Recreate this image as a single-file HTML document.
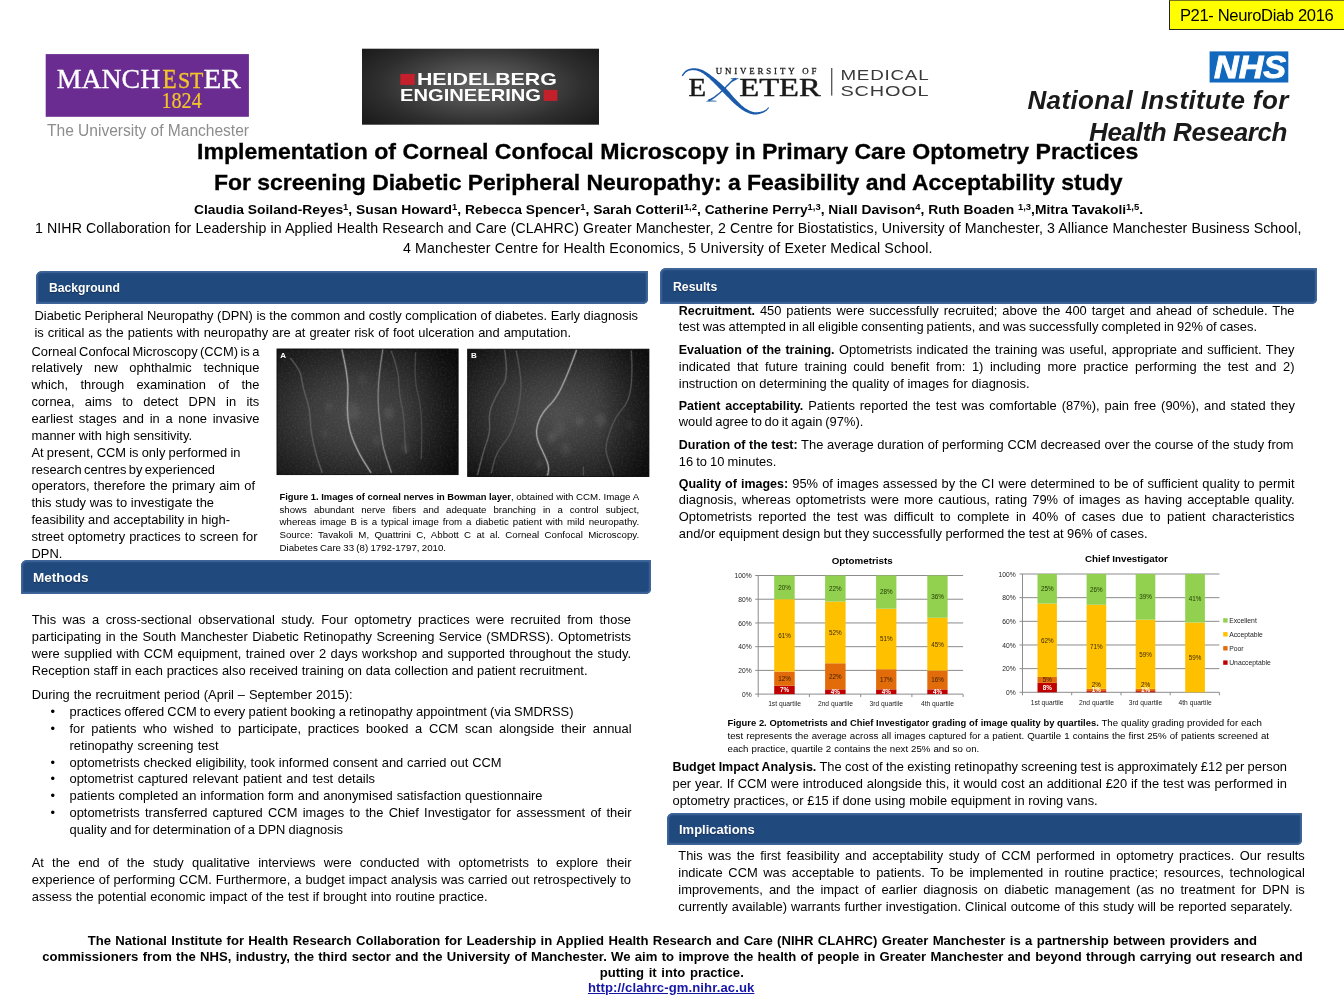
<!DOCTYPE html>
<html lang="en"><head><meta charset="utf-8"><title>CCM poster</title>
<style>
*{margin:0;padding:0;box-sizing:border-box}
html,body{width:1344px;height:1008px;background:#fff;overflow:hidden}
body{position:relative;font-family:"Liberation Sans",sans-serif;color:#000}
.t{position:absolute;white-space:pre;line-height:1;color:#000}
.t sup{font-size:68%;line-height:0;vertical-align:baseline;position:relative;top:-0.5em}
.t.ti{-webkit-text-stroke:.3px #000}
.t b{font-size:96.8%}
.t.h{text-shadow:0 1px 1px rgba(0,0,0,.35)}
.bar{position:absolute;background:#20497e;border-radius:6px 1px 5px 1px;box-shadow:inset 0 0 1.6px 1.9px #41689c}

.tag{position:absolute;left:1169px;top:0;width:177px;height:30px;background:#ffff00;border:1px solid #222;border-top-color:#77771a}
svg.g{position:absolute;left:0;top:0}
</style></head>
<body>
<div class="bar" style="left:36px;top:271.0px;width:611.8px;height:32.8px"></div>
<div class="bar" style="left:21.1px;top:560.1px;width:629.6px;height:33.8px"></div>
<div class="bar" style="left:660px;top:268.0px;width:657.0px;height:35.8px"></div>
<div class="bar" style="left:667px;top:813.1px;width:634.8px;height:31.6px"></div>
<div class="tag"></div>
<svg class="g" width="1344" height="1008" viewBox="0 0 1344 1008">
<defs>
<radialGradient id="pa" cx="44%" cy="52%" r="74%"><stop offset="0" stop-color="#484848"/><stop offset=".35" stop-color="#3a3a3a"/><stop offset=".7" stop-color="#222"/><stop offset="1" stop-color="#0e0e0e"/></radialGradient>
<linearGradient id="pr" x1="0" x2="1" y1="0" y2="0"><stop offset="0" stop-color="#000" stop-opacity="0"/><stop offset=".72" stop-color="#000" stop-opacity="0"/><stop offset="1" stop-color="#000" stop-opacity=".45"/></linearGradient>
<radialGradient id="pb" cx="51%" cy="50%" r="72%"><stop offset="0" stop-color="#4d4d4d"/><stop offset=".35" stop-color="#3c3c3c"/><stop offset=".7" stop-color="#242424"/><stop offset="1" stop-color="#0e0e0e"/></radialGradient>
<radialGradient id="hg" cx=".5" cy=".48" r="1" gradientTransform="translate(.5 .48) scale(.62 .75) translate(-.5 -.48)"><stop offset="0" stop-color="#666"/><stop offset=".35" stop-color="#4c4c4c"/><stop offset=".7" stop-color="#2e2e2e"/><stop offset="1" stop-color="#1c1c1c"/></radialGradient>
<filter id="bl" x="-5%" y="-5%" width="110%" height="110%"><feGaussianBlur stdDeviation="0.7"/></filter>
<filter id="ns" x="0" y="0" width="100%" height="100%"><feTurbulence type="fractalNoise" baseFrequency="0.55" numOctaves="2" seed="3"/><feColorMatrix type="matrix" values="0 0 0 0 1  0 0 0 0 1  0 0 0 0 1  0.9 0 0 0 -0.38"/><feGaussianBlur stdDeviation="0.5"/></filter>
<filter id="bl2" x="-20%" y="-20%" width="140%" height="140%"><feGaussianBlur stdDeviation="2.2"/></filter>
</defs>
<rect x="45.7" y="54.1" width="203.2" height="62.7" fill="#6a2c91"/><rect x="362" y="48.7" width="237" height="76" fill="url(#hg)"/><rect x="1209.6" y="51.4" width="78.7" height="31.1" fill="#1168bd"/>
<g font-family="Liberation Serif, serif" fill="#fff" stroke-width="0.35">
<text x="56.8" y="88.4" font-size="27" textLength="103.4" stroke="#fff" lengthAdjust="spacingAndGlyphs">MANCH</text>
<text x="162.6" y="88.4" font-size="27" fill="#f4c52a" stroke="#f4c52a" textLength="14.2" lengthAdjust="spacingAndGlyphs">E</text>
<text x="178" y="88.4" font-size="22.6" fill="#f4c52a" stroke="#f4c52a" textLength="25.4" lengthAdjust="spacingAndGlyphs">ST</text>
<text x="203.6" y="88.4" font-size="27" textLength="37.2" stroke="#fff" lengthAdjust="spacingAndGlyphs">ER</text>
<text x="161.5" y="108" font-size="23" fill="#f4c52a" stroke="#f4c52a" stroke-width="0.2" textLength="40.2" lengthAdjust="spacingAndGlyphs">1824</text>
</g>
<text x="1214" y="78.2" font-family="Liberation Sans, sans-serif" font-weight="700" font-style="italic" font-size="31.3" fill="#fff" stroke="#fff" stroke-width="0.9" textLength="72.0" lengthAdjust="spacingAndGlyphs">NHS</text>
<g font-family="Liberation Sans, sans-serif" font-weight="700" fill="#fff">
<rect x="400.3" y="73.9" width="14.5" height="11" fill="#c4202c"/>
<text x="416.9" y="84.9" font-size="16.2" textLength="140" lengthAdjust="spacingAndGlyphs">HEIDELBERG</text>
<text x="400" y="100.9" font-size="16.2" textLength="141" lengthAdjust="spacingAndGlyphs">ENGINEERING</text>
<rect x="543.6" y="89.9" width="13.8" height="11" fill="#c4202c"/>
</g>
<g>
<path d="M682.7,76.2 L683.1,75.8 L683.4,75.4 L683.8,74.9 L684.1,74.5 L684.4,74.1 L684.8,73.7 L685.1,73.3 L685.4,72.9 L685.8,72.5 L686.1,72.2 L686.5,71.9 L686.9,71.7 L687.4,71.4 L687.8,71.2 L688.3,71.0 L688.9,70.8 L689.4,70.6 L690.0,70.5 L690.5,70.4 L691.1,70.3 L691.7,70.2 L692.3,70.2 L692.9,70.1 L693.5,70.2 L694.1,70.2 L694.7,70.3 L695.4,70.3 L696.0,70.5 L696.7,70.6 L697.3,70.8 L698.0,71.0 L698.7,71.2 L699.3,71.4 L700.0,71.7 L700.7,72.1 L701.4,72.5 L702.1,72.9 L702.9,73.3 L703.6,73.8 L704.3,74.4 L705.1,74.9 L705.9,75.6 L706.7,76.2 L707.5,76.9 L708.3,77.6 L709.1,78.3 L710.0,79.1 L710.8,79.9 L711.7,80.7 L712.6,81.6 L713.6,82.5 L714.5,83.4 L715.5,84.4 L716.5,85.4 L717.5,86.4 L718.4,87.5 L719.4,88.5 L720.4,89.5 L721.4,90.5 L722.3,91.5 L723.3,92.4 L724.2,93.4 L725.2,94.4 L726.1,95.4 L727.1,96.4 L728.0,97.3 L729.0,98.3 L729.9,99.3 L730.9,100.3 L731.8,101.2 L732.7,102.1 L733.6,102.9 L734.5,103.7 L735.4,104.5 L736.2,105.2 L737.1,105.9 L737.9,106.6 L738.7,107.3 L739.6,108.0 L740.4,108.6 L741.2,109.2 L742.0,109.7 L742.9,110.3 L743.7,110.8 L744.5,111.2 L745.3,111.7 L746.2,112.1 L747.0,112.5 L747.8,112.8 L748.6,113.1 L749.4,113.4 L750.2,113.7 L751.0,113.9 L751.8,114.1 L752.5,114.2 L753.3,114.4 L754.0,114.4 L754.8,114.5 L755.5,114.5 L756.2,114.5 L756.9,114.4 L757.6,114.3 L758.3,114.2 L758.9,114.1 L759.5,113.9 L760.1,113.8 L760.7,113.6 L761.2,113.5 L761.7,113.3 L762.3,113.1 L762.8,112.9 L763.2,112.7 L763.7,112.5 L764.1,112.3 L764.6,112.1 L765.0,111.8 L765.3,111.6 L765.7,111.3 L766.0,111.1 L766.4,110.9 L766.7,110.6 L767.0,110.3 L767.3,110.1 L767.5,109.8 L767.7,109.5 L767.9,109.2 L768.1,109.0 L768.3,108.7 L768.5,108.4 L768.7,108.2 L768.9,107.9 L769.1,107.7 L768.5,107.1 L768.3,107.4 L768.0,107.6 L767.8,107.8 L767.6,108.1 L767.3,108.3 L767.1,108.5 L766.9,108.8 L766.7,109.0 L766.4,109.2 L766.2,109.4 L765.9,109.6 L765.6,109.7 L765.3,109.9 L764.9,110.1 L764.6,110.3 L764.2,110.5 L763.8,110.7 L763.4,110.9 L763.0,111.1 L762.6,111.2 L762.2,111.4 L761.7,111.5 L761.3,111.6 L760.8,111.7 L760.3,111.8 L759.7,111.9 L759.1,112.0 L758.6,112.1 L758.0,112.2 L757.4,112.3 L756.8,112.3 L756.2,112.3 L755.5,112.3 L754.9,112.2 L754.3,112.2 L753.7,112.0 L753.1,111.9 L752.4,111.7 L751.7,111.5 L751.0,111.2 L750.3,111.0 L749.6,110.7 L748.9,110.3 L748.2,110.0 L747.5,109.6 L746.7,109.1 L746.0,108.7 L745.3,108.2 L744.6,107.7 L743.9,107.2 L743.2,106.6 L742.5,106.0 L741.7,105.4 L741.0,104.7 L740.3,104.0 L739.5,103.3 L738.7,102.5 L738.0,101.7 L737.2,100.9 L736.4,100.1 L735.6,99.2 L734.7,98.3 L733.9,97.4 L733.0,96.4 L732.2,95.4 L731.3,94.4 L730.4,93.3 L729.5,92.3 L728.6,91.2 L727.6,90.2 L726.6,89.1 L725.7,88.1 L724.7,87.2 L723.7,86.2 L722.6,85.2 L721.6,84.2 L720.5,83.3 L719.4,82.3 L718.3,81.4 L717.3,80.5 L716.2,79.6 L715.2,78.7 L714.1,77.9 L713.2,77.1 L712.2,76.4 L711.3,75.7 L710.4,75.0 L709.5,74.3 L708.6,73.7 L707.7,73.1 L706.8,72.5 L706.0,72.0 L705.1,71.5 L704.3,71.0 L703.4,70.5 L702.6,70.1 L701.8,69.8 L700.9,69.5 L700.1,69.2 L699.3,69.0 L698.6,68.8 L697.8,68.6 L697.1,68.5 L696.3,68.4 L695.6,68.3 L694.9,68.3 L694.2,68.2 L693.5,68.2 L692.8,68.3 L692.1,68.3 L691.5,68.4 L690.8,68.5 L690.2,68.7 L689.5,68.8 L688.9,69.0 L688.3,69.3 L687.7,69.5 L687.2,69.7 L686.6,70.0 L686.1,70.3 L685.6,70.7 L685.1,71.0 L684.7,71.5 L684.3,71.9 L684.0,72.3 L683.6,72.8 L683.3,73.2 L683.0,73.7 L682.6,74.1 L682.3,74.5 L682.0,75.0 L681.7,75.4Z" fill="#1c5bab"/>
<path d="M735.3,77.6 L735.0,77.9 L734.6,78.1 L734.3,78.4 L734.0,78.6 L733.6,78.8 L733.2,79.1 L732.9,79.4 L732.5,79.7 L732.0,80.1 L731.5,80.4 L731.0,80.9 L730.5,81.4 L729.9,82.0 L729.2,82.7 L728.5,83.4 L727.7,84.2 L727.0,85.0 L726.2,85.8 L725.4,86.7 L724.6,87.5 L723.8,88.3 L723.0,89.1 L722.3,89.8 L721.5,90.5 L720.8,91.1 L720.1,91.8 L719.4,92.4 L718.7,93.0 L718.0,93.5 L717.4,94.1 L716.7,94.6 L716.0,95.1 L715.4,95.6 L714.8,96.1 L714.2,96.5 L713.6,96.9 L713.0,97.3 L712.5,97.6 L712.0,97.8 L711.6,98.1 L711.1,98.3 L710.7,98.5 L710.3,98.7 L709.8,98.9 L709.4,99.1 L708.9,99.3 L708.5,99.5 L708.0,99.7 L709.0,101.5 L709.4,101.2 L709.8,101.0 L710.2,100.7 L710.6,100.5 L711.1,100.3 L711.5,100.0 L711.9,99.8 L712.4,99.5 L712.9,99.2 L713.3,98.9 L713.9,98.5 L714.4,98.1 L715.0,97.7 L715.6,97.2 L716.2,96.7 L716.9,96.2 L717.5,95.7 L718.2,95.1 L718.9,94.6 L719.6,94.0 L720.3,93.4 L721.0,92.8 L721.7,92.1 L722.5,91.5 L723.2,90.8 L724.0,90.1 L724.8,89.3 L725.6,88.5 L726.4,87.6 L727.2,86.8 L728.0,86.0 L728.8,85.2 L729.5,84.4 L730.2,83.7 L730.9,83.1 L731.5,82.6 L732.1,82.1 L732.6,81.8 L733.0,81.5 L733.5,81.2 L733.9,81.0 L734.3,80.8 L734.6,80.6 L735.0,80.5 L735.4,80.3 L735.8,80.1 L736.2,79.9 L736.7,79.6Z" fill="#1c5bab"/>
<path d="M730.5,78.2 L738.5,78.2 L738.3,79 L735,79.6 L732,79.4 Z M705.5,101.6 L716.5,101.6 L716.3,100.8 L712,100.4 L708.5,100.2 Z" fill="#1c5bab"/>
<g font-family="Liberation Serif, serif" fill="#1a1a1a" stroke="#1a1a1a" stroke-width="0.45">
<text x="715.7" stroke-width="0.3" y="74" font-size="8.8" textLength="100.6" lengthAdjust="spacing">UNIVERSITY OF</text>
<text x="688.6" y="95.7" font-size="25.2" textLength="17.6" lengthAdjust="spacingAndGlyphs">E</text>
<text x="739.3" y="95.7" font-size="25.2" textLength="81.5" lengthAdjust="spacingAndGlyphs">ETER</text>
</g>
<rect x="831.2" y="68" width="1.1" height="27.6" fill="#333"/>
<g font-family="Liberation Sans, sans-serif" fill="#3a3a3a" font-size="14.6">
<text x="840.4" y="80.2" textLength="89" lengthAdjust="spacingAndGlyphs" letter-spacing="0.6">MEDICAL</text>
<text x="840.4" y="95.8" textLength="89" lengthAdjust="spacingAndGlyphs" letter-spacing="0.6">SCHOOL</text>
</g>
</g>
<g><rect x="277.0" y="349.0" width="181.1" height="125.6" fill="url(#pa)" stroke="#050505" stroke-width="0.9"/>
<rect x="277.0" y="349.0" width="181.1" height="125.6" fill="url(#pr)"/>
<rect x="277.0" y="349.0" width="181.1" height="125.6" filter="url(#ns)" opacity=".16"/>
<g filter="url(#bl2)">
<ellipse cx="389.0" cy="413.0" rx="5.0" ry="6.5" fill="#999" opacity="0.16"/>
<ellipse cx="329.0" cy="407.0" rx="4.0" ry="5.2" fill="#999" opacity="0.12"/>
<ellipse cx="377.0" cy="441.0" rx="4.0" ry="5.2" fill="#999" opacity="0.12"/>
<ellipse cx="405.0" cy="448.0" rx="3.0" ry="3.9" fill="#999" opacity="0.2"/>
<ellipse cx="352.0" cy="411.0" rx="7.0" ry="9.1" fill="#999" opacity="0.12"/>
<ellipse cx="325.0" cy="433.0" rx="3.0" ry="3.9" fill="#999" opacity="0.12"/>
<ellipse cx="363.0" cy="379.0" rx="5.0" ry="6.5" fill="#999" opacity="0.08"/>
</g><g filter="url(#bl)" fill="none" stroke-linecap="round">
<path d="M290.6,358.6 Q300.6,370.0 301.6,378.6 Q302.7,387.1 306.3,397.9 Q309.9,408.6 310.2,419.3 Q310.6,430.0 313.4,442.9 Q316.3,455.7 319.1,463.9 L322.0,472.1" stroke="#666" stroke-width="2.20" opacity=".28"/>
<path d="M290.6,358.6 Q300.6,370.0 301.6,378.6 Q302.7,387.1 306.3,397.9 Q309.9,408.6 310.2,419.3 Q310.6,430.0 313.4,442.9 Q316.3,455.7 319.1,463.9 L322.0,472.1" stroke="#666" stroke-width="1.0" stroke-dasharray="1.6 0.9" opacity=".9"/>
<path d="M342.0,350.0 Q345.6,365.7 347.0,376.4 Q348.4,387.1 347.7,397.9 Q347.0,408.6 348.1,419.3 Q349.1,430.0 353.4,440.7 Q357.7,451.4 364.1,461.8 L370.6,472.1" stroke="#a8a8a8" stroke-width="2.53" opacity=".28"/>
<path d="M342.0,350.0 Q345.6,365.7 347.0,376.4 Q348.4,387.1 347.7,397.9 Q347.0,408.6 348.1,419.3 Q349.1,430.0 353.4,440.7 Q357.7,451.4 364.1,461.8 L370.6,472.1" stroke="#a8a8a8" stroke-width="1.15" stroke-dasharray="1.6 0.9" opacity=".9"/>
<path d="M382.7,350.0 Q379.1,372.9 378.4,387.1 Q377.7,401.4 378.8,412.1 Q379.9,422.9 381.3,435.0 Q382.7,447.1 387.0,459.6 L391.3,472.1" stroke="#8a8a8a" stroke-width="2.31" opacity=".28"/>
<path d="M382.7,350.0 Q379.1,372.9 378.4,387.1 Q377.7,401.4 378.8,412.1 Q379.9,422.9 381.3,435.0 Q382.7,447.1 387.0,459.6 L391.3,472.1" stroke="#8a8a8a" stroke-width="1.05" stroke-dasharray="1.6 0.9" opacity=".9"/>
<path d="M391.3,351.4 Q398.4,370.0 398.8,382.1 Q399.1,394.3 401.6,405.0 Q404.1,415.7 404.5,430.0 Q404.9,444.3 405.6,448.6 L406.3,452.9" stroke="#5e5e5e" stroke-width="1.98" opacity=".28"/>
<path d="M391.3,351.4 Q398.4,370.0 398.8,382.1 Q399.1,394.3 401.6,405.0 Q404.1,415.7 404.5,430.0 Q404.9,444.3 405.6,448.6 L406.3,452.9" stroke="#5e5e5e" stroke-width="0.9" stroke-dasharray="1.6 0.9" opacity=".9"/>
<path d="M415.6,352.9 Q414.1,380.0 417.4,392.1 Q420.6,404.3 421.3,417.1 Q422.0,430.0 421.6,444.3 L421.3,458.6" stroke="#525252" stroke-width="1.98" opacity=".28"/>
<path d="M415.6,352.9 Q414.1,380.0 417.4,392.1 Q420.6,404.3 421.3,417.1 Q422.0,430.0 421.6,444.3 L421.3,458.6" stroke="#525252" stroke-width="0.9" stroke-dasharray="1.6 0.9" opacity=".9"/>
</g>
<text x="280.2" y="357.6" font-family="Liberation Sans, sans-serif" font-weight="700" font-size="8" fill="#fff">A</text></g>
<g><rect x="467.7" y="349.2" width="181.2" height="127.3" fill="url(#pb)" stroke="#050505" stroke-width="0.9"/>
<rect x="467.7" y="349.2" width="181.2" height="127.3" fill="url(#pr)"/>
<rect x="467.7" y="349.2" width="181.2" height="127.3" filter="url(#ns)" opacity=".16"/>
<g filter="url(#bl2)">
<ellipse cx="551.7" cy="437.2" rx="4.0" ry="5.2" fill="#999" opacity="0.2"/>
<ellipse cx="579.7" cy="421.2" rx="4.0" ry="5.2" fill="#999" opacity="0.16"/>
<ellipse cx="600.7" cy="420.2" rx="5.0" ry="6.5" fill="#999" opacity="0.18"/>
<ellipse cx="539.7" cy="464.2" rx="3.0" ry="3.9" fill="#999" opacity="0.14"/>
<ellipse cx="565.7" cy="449.2" rx="5.0" ry="6.5" fill="#999" opacity="0.12"/>
<ellipse cx="629.7" cy="425.2" rx="3.0" ry="3.9" fill="#999" opacity="0.1"/>
<ellipse cx="559.7" cy="429.2" rx="6.0" ry="7.8" fill="#999" opacity="0.1"/>
</g><g filter="url(#bl)" fill="none" stroke-linecap="round">
<path d="M504.8,350.6 Q508.4,377.1 503.4,384.2 Q498.4,391.3 493.4,402.1 Q488.4,412.8 489.5,422.1 Q490.6,431.3 487.0,441.3 Q483.4,451.3 480.6,462.8 L477.7,474.2" stroke="#666" stroke-width="2.20" opacity=".28"/>
<path d="M504.8,350.6 Q508.4,377.1 503.4,384.2 Q498.4,391.3 493.4,402.1 Q488.4,412.8 489.5,422.1 Q490.6,431.3 487.0,441.3 Q483.4,451.3 480.6,462.8 L477.7,474.2" stroke="#666" stroke-width="1.0" stroke-dasharray="1.6 0.9" opacity=".9"/>
<path d="M516.3,351.3 Q520.6,372.8 520.9,382.8 Q521.3,392.8 518.8,405.6 Q516.3,418.5 512.7,427.8 Q509.1,437.1 502.7,444.9 Q496.3,452.8 493.8,462.8 L491.3,472.8" stroke="#5e5e5e" stroke-width="1.98" opacity=".28"/>
<path d="M516.3,351.3 Q520.6,372.8 520.9,382.8 Q521.3,392.8 518.8,405.6 Q516.3,418.5 512.7,427.8 Q509.1,437.1 502.7,444.9 Q496.3,452.8 493.8,462.8 L491.3,472.8" stroke="#5e5e5e" stroke-width="0.9" stroke-dasharray="1.6 0.9" opacity=".9"/>
<path d="M576.3,350.6 Q567.7,374.2 562.0,386.3 Q556.3,398.5 549.8,404.9 Q543.4,411.3 540.2,417.8 Q537.0,424.2 536.6,431.3 Q536.3,438.5 540.6,447.1 Q544.8,455.6 547.0,461.3 Q549.1,467.1 548.4,471.0 L547.7,474.9" stroke="#aaaaaa" stroke-width="2.53" opacity=".28"/>
<path d="M576.3,350.6 Q567.7,374.2 562.0,386.3 Q556.3,398.5 549.8,404.9 Q543.4,411.3 540.2,417.8 Q537.0,424.2 536.6,431.3 Q536.3,438.5 540.6,447.1 Q544.8,455.6 547.0,461.3 Q549.1,467.1 548.4,471.0 L547.7,474.9" stroke="#aaaaaa" stroke-width="1.15" stroke-dasharray="1.6 0.9" opacity=".9"/>
<path d="M631.3,351.3 Q632.7,372.8 630.9,387.1 Q629.1,401.3 622.7,408.5 Q616.3,415.6 612.7,424.2 Q609.1,432.8 607.0,441.3 Q604.8,449.9 607.7,457.8 Q610.6,465.6 612.0,470.3 L613.4,474.9" stroke="#5c5c5c" stroke-width="2.09" opacity=".28"/>
<path d="M631.3,351.3 Q632.7,372.8 630.9,387.1 Q629.1,401.3 622.7,408.5 Q616.3,415.6 612.7,424.2 Q609.1,432.8 607.0,441.3 Q604.8,449.9 607.7,457.8 Q610.6,465.6 612.0,470.3 L613.4,474.9" stroke="#5c5c5c" stroke-width="0.95" stroke-dasharray="1.6 0.9" opacity=".9"/>
<path d="M583.4,467.1 Q583.4,471.3 583.4,473.1 L583.4,474.9" stroke="#5a5a5a" stroke-width="1.98" opacity=".28"/>
<path d="M583.4,467.1 Q583.4,471.3 583.4,473.1 L583.4,474.9" stroke="#5a5a5a" stroke-width="0.9" stroke-dasharray="1.6 0.9" opacity=".9"/>
</g>
<text x="470.9" y="357.8" font-family="Liberation Sans, sans-serif" font-weight="700" font-size="8" fill="#fff">B</text></g>
<g font-family="Liberation Sans, sans-serif">
<rect x="755.2" y="693.60" width="207.9" height="1" fill="#8c8c8c"/>
<text x="751.7" y="696.8" font-size="6.7" text-anchor="end" fill="#222">0%</text>
<rect x="755.2" y="669.88" width="207.9" height="1" fill="#8c8c8c"/>
<text x="751.7" y="673.1" font-size="6.7" text-anchor="end" fill="#222">20%</text>
<rect x="755.2" y="646.16" width="207.9" height="1" fill="#8c8c8c"/>
<text x="751.7" y="649.4" font-size="6.7" text-anchor="end" fill="#222">40%</text>
<rect x="755.2" y="622.44" width="207.9" height="1" fill="#8c8c8c"/>
<text x="751.7" y="625.6" font-size="6.7" text-anchor="end" fill="#222">60%</text>
<rect x="755.2" y="598.72" width="207.9" height="1" fill="#8c8c8c"/>
<text x="751.7" y="601.9" font-size="6.7" text-anchor="end" fill="#222">80%</text>
<rect x="755.2" y="575.00" width="207.9" height="1" fill="#8c8c8c"/>
<text x="751.7" y="578.2" font-size="6.7" text-anchor="end" fill="#222">100%</text>
<rect x="757.7" y="575.5" width="1" height="121.6" fill="#8c8c8c"/>
<rect x="808.9" y="694.1" width="1" height="3" fill="#8c8c8c"/>
<rect x="860.2" y="694.1" width="1" height="3" fill="#8c8c8c"/>
<rect x="911.4" y="694.1" width="1" height="3" fill="#8c8c8c"/>
<rect x="962.6" y="694.1" width="1" height="3" fill="#8c8c8c"/>
<rect x="774.2" y="685.80" width="20.5" height="8.30" fill="#c00000"/>
<rect x="774.2" y="671.57" width="20.5" height="14.23" fill="#e36c0a"/>
<rect x="774.2" y="599.22" width="20.5" height="72.35" fill="#ffc000"/>
<rect x="774.2" y="575.50" width="20.5" height="23.72" fill="#92d050"/>
<text x="784.5" y="692.2" font-size="6.3" text-anchor="middle" fill="#fff" font-weight="700">7%</text>
<text x="784.5" y="681.0" font-size="6.3" text-anchor="middle" fill="#3a2000">12%</text>
<text x="784.5" y="637.7" font-size="6.3" text-anchor="middle" fill="#3a2a00">61%</text>
<text x="784.5" y="589.7" font-size="6.3" text-anchor="middle" fill="#1e3a00">20%</text>
<text x="784.5" y="706.3" font-size="6.7" text-anchor="middle" fill="#222">1st quartile</text>
<rect x="825.1" y="689.36" width="20.5" height="4.74" fill="#c00000"/>
<rect x="825.1" y="663.26" width="20.5" height="26.09" fill="#e36c0a"/>
<rect x="825.1" y="601.59" width="20.5" height="61.67" fill="#ffc000"/>
<rect x="825.1" y="575.50" width="20.5" height="26.09" fill="#92d050"/>
<text x="835.4" y="694.0" font-size="6.3" text-anchor="middle" fill="#fff" font-weight="700">4%</text>
<text x="835.4" y="678.6" font-size="6.3" text-anchor="middle" fill="#3a2000">22%</text>
<text x="835.4" y="634.7" font-size="6.3" text-anchor="middle" fill="#3a2a00">52%</text>
<text x="835.4" y="590.8" font-size="6.3" text-anchor="middle" fill="#1e3a00">22%</text>
<text x="835.4" y="706.3" font-size="6.7" text-anchor="middle" fill="#222">2nd quartile</text>
<rect x="876.1" y="689.36" width="20.3" height="4.74" fill="#c00000"/>
<rect x="876.1" y="669.19" width="20.3" height="20.16" fill="#e36c0a"/>
<rect x="876.1" y="608.71" width="20.3" height="60.49" fill="#ffc000"/>
<rect x="876.1" y="575.50" width="20.3" height="33.21" fill="#92d050"/>
<text x="886.2" y="694.0" font-size="6.3" text-anchor="middle" fill="#fff" font-weight="700">4%</text>
<text x="886.2" y="681.6" font-size="6.3" text-anchor="middle" fill="#3a2000">17%</text>
<text x="886.2" y="641.3" font-size="6.3" text-anchor="middle" fill="#3a2a00">51%</text>
<text x="886.2" y="594.4" font-size="6.3" text-anchor="middle" fill="#1e3a00">28%</text>
<text x="886.2" y="706.3" font-size="6.7" text-anchor="middle" fill="#222">3rd quartile</text>
<rect x="927.3" y="689.40" width="20.3" height="4.70" fill="#c00000"/>
<rect x="927.3" y="670.61" width="20.3" height="18.79" fill="#e36c0a"/>
<rect x="927.3" y="617.77" width="20.3" height="52.84" fill="#ffc000"/>
<rect x="927.3" y="575.50" width="20.3" height="42.27" fill="#92d050"/>
<text x="937.5" y="694.1" font-size="6.3" text-anchor="middle" fill="#fff" font-weight="700">4%</text>
<text x="937.5" y="682.3" font-size="6.3" text-anchor="middle" fill="#3a2000">16%</text>
<text x="937.5" y="646.5" font-size="6.3" text-anchor="middle" fill="#3a2a00">45%</text>
<text x="937.5" y="598.9" font-size="6.3" text-anchor="middle" fill="#1e3a00">36%</text>
<text x="937.5" y="706.3" font-size="6.7" text-anchor="middle" fill="#222">4th quartile</text>
<text x="862.2" y="563.7" font-size="9.8" font-weight="700" text-anchor="middle" fill="#000">Optometrists</text>
</g>
<g font-family="Liberation Sans, sans-serif">
<rect x="1019.5" y="691.80" width="199.9" height="1" fill="#8c8c8c"/>
<text x="1015.6" y="695.0" font-size="6.7" text-anchor="end" fill="#222">0%</text>
<rect x="1019.5" y="668.14" width="199.9" height="1" fill="#8c8c8c"/>
<text x="1015.6" y="671.3" font-size="6.7" text-anchor="end" fill="#222">20%</text>
<rect x="1019.5" y="644.48" width="199.9" height="1" fill="#8c8c8c"/>
<text x="1015.6" y="647.7" font-size="6.7" text-anchor="end" fill="#222">40%</text>
<rect x="1019.5" y="620.82" width="199.9" height="1" fill="#8c8c8c"/>
<text x="1015.6" y="624.0" font-size="6.7" text-anchor="end" fill="#222">60%</text>
<rect x="1019.5" y="597.16" width="199.9" height="1" fill="#8c8c8c"/>
<text x="1015.6" y="600.4" font-size="6.7" text-anchor="end" fill="#222">80%</text>
<rect x="1019.5" y="573.50" width="199.9" height="1" fill="#8c8c8c"/>
<text x="1015.6" y="576.7" font-size="6.7" text-anchor="end" fill="#222">100%</text>
<rect x="1022.0" y="574.0" width="1" height="121.3" fill="#8c8c8c"/>
<rect x="1071.2" y="692.3" width="1" height="3" fill="#8c8c8c"/>
<rect x="1120.5" y="692.3" width="1" height="3" fill="#8c8c8c"/>
<rect x="1169.7" y="692.3" width="1" height="3" fill="#8c8c8c"/>
<rect x="1218.9" y="692.3" width="1" height="3" fill="#8c8c8c"/>
<rect x="1037.5" y="682.84" width="19.4" height="9.46" fill="#c00000"/>
<rect x="1037.5" y="676.92" width="19.4" height="5.91" fill="#e36c0a"/>
<rect x="1037.5" y="603.58" width="19.4" height="73.35" fill="#ffc000"/>
<rect x="1037.5" y="574.00" width="19.4" height="29.57" fill="#92d050"/>
<text x="1047.2" y="689.9" font-size="6.3" text-anchor="middle" fill="#fff" font-weight="700">8%</text>
<text x="1047.2" y="682.2" font-size="6.3" text-anchor="middle" fill="#3a2000">5%</text>
<text x="1047.2" y="642.5" font-size="6.3" text-anchor="middle" fill="#3a2a00">62%</text>
<text x="1047.2" y="591.1" font-size="6.3" text-anchor="middle" fill="#1e3a00">25%</text>
<text x="1047.2" y="704.6" font-size="6.7" text-anchor="middle" fill="#222">1st quartile</text>
<rect x="1086.6" y="691.12" width="19.6" height="1.18" fill="#c00000"/>
<rect x="1086.6" y="688.75" width="19.6" height="2.37" fill="#e36c0a"/>
<rect x="1086.6" y="604.76" width="19.6" height="83.99" fill="#ffc000"/>
<rect x="1086.6" y="574.00" width="19.6" height="30.76" fill="#92d050"/>
<text x="1096.4" y="692.0" font-size="6.3" text-anchor="middle" fill="#fff" font-weight="700">1%</text>
<text x="1096.4" y="686.6" font-size="6.3" text-anchor="middle" fill="#3a2000">2%</text>
<text x="1096.4" y="649.1" font-size="6.3" text-anchor="middle" fill="#3a2a00">71%</text>
<text x="1096.4" y="591.7" font-size="6.3" text-anchor="middle" fill="#1e3a00">26%</text>
<text x="1096.4" y="704.6" font-size="6.7" text-anchor="middle" fill="#222">2nd quartile</text>
<rect x="1135.7" y="691.13" width="19.6" height="1.17" fill="#c00000"/>
<rect x="1135.7" y="688.79" width="19.6" height="2.34" fill="#e36c0a"/>
<rect x="1135.7" y="619.68" width="19.6" height="69.11" fill="#ffc000"/>
<rect x="1135.7" y="574.00" width="19.6" height="45.68" fill="#92d050"/>
<text x="1145.5" y="692.0" font-size="6.3" text-anchor="middle" fill="#fff" font-weight="700">1%</text>
<text x="1145.5" y="686.6" font-size="6.3" text-anchor="middle" fill="#3a2000">2%</text>
<text x="1145.5" y="656.5" font-size="6.3" text-anchor="middle" fill="#3a2a00">59%</text>
<text x="1145.5" y="599.1" font-size="6.3" text-anchor="middle" fill="#1e3a00">39%</text>
<text x="1145.5" y="704.6" font-size="6.7" text-anchor="middle" fill="#222">3rd quartile</text>
<rect x="1185.2" y="622.50" width="19.7" height="69.80" fill="#ffc000"/>
<rect x="1185.2" y="574.00" width="19.7" height="48.50" fill="#92d050"/>
<text x="1195.1" y="659.7" font-size="6.3" text-anchor="middle" fill="#3a2a00">59%</text>
<text x="1195.1" y="600.6" font-size="6.3" text-anchor="middle" fill="#1e3a00">41%</text>
<text x="1195.1" y="704.6" font-size="6.7" text-anchor="middle" fill="#222">4th quartile</text>
<text x="1126.4" y="561.7" font-size="9.8" font-weight="700" text-anchor="middle" fill="#000">Chief Investigator</text>
</g>
<g font-family="Liberation Sans, sans-serif" font-size="6.8" fill="#222">
<rect x="1223.2" y="618.2" width="4.4" height="4.4" fill="#92d050"/><text x="1229.2" y="623.0">Excellent</text>
<rect x="1223.2" y="632.1" width="4.4" height="4.4" fill="#ffc000"/><text x="1229.2" y="636.9">Acceptable</text>
<rect x="1223.2" y="646.1" width="4.4" height="4.4" fill="#e36c0a"/><text x="1229.2" y="650.9">Poor</text>
<rect x="1223.2" y="660.4" width="4.4" height="4.4" fill="#c00000"/><text x="1229.2" y="665.2">Unacceptable</text>
</g>
</svg>
<div class="t ti" style='left:196.70px;top:142px;font-family:"Liberation Sans", sans-serif;font-size:21.4px;font-weight:700;font-style:normal;transform:scaleX(1.0803);transform-origin:0 0;'>Implementation of Corneal Confocal Microscopy in Primary Care Optometry Practices</div>
<div class="t ti" style='left:213.50px;top:173px;font-family:"Liberation Sans", sans-serif;font-size:21.4px;font-weight:700;font-style:normal;transform:scaleX(1.0729);transform-origin:0 0;'>For screening Diabetic Peripheral Neuropathy: a Feasibility and Acceptability study</div>
<div class="t" style='left:194.00px;top:203px;font-family:"Liberation Sans", sans-serif;font-size:13.0px;font-weight:700;font-style:normal;transform:scaleX(1.0637);transform-origin:0 0;'>Claudia Soiland-Reyes<sup>1</sup>, Susan Howard<sup>1</sup>, Rebecca Spencer<sup>1</sup>, Sarah Cotteril<sup>1,2</sup>, Catherine Perry<sup>1,3</sup>, Niall Davison<sup>4</sup>, Ruth Boaden <sup>1,3</sup>,Mitra Tavakoli<sup>1,5</sup>.</div>
<div class="t" style='left:35.00px;top:221px;font-family:"Liberation Sans", sans-serif;font-size:14.2px;font-weight:400;font-style:normal;letter-spacing:0.078px;'>1 NIHR Collaboration for Leadership in Applied Health Research and Care (CLAHRC) Greater Manchester, 2 Centre for Biostatistics, University of Manchester, 3 Alliance Manchester Business School,</div>
<div class="t" style='left:403.00px;top:241px;font-family:"Liberation Sans", sans-serif;font-size:14.2px;font-weight:400;font-style:normal;letter-spacing:0.145px;'>4 Manchester Centre for Health Economics, 5 University of Exeter Medical School.</div>
<div class="t" style='left:34.50px;top:310px;font-family:"Liberation Sans", sans-serif;font-size:12.9px;font-weight:400;font-style:normal;word-spacing:-0.038px;'>Diabetic Peripheral Neuropathy (DPN) is the common and costly complication of diabetes. Early diagnosis</div>
<div class="t" style='left:34.50px;top:327px;font-family:"Liberation Sans", sans-serif;font-size:12.9px;font-weight:400;font-style:normal;word-spacing:0.370px;'>is critical as the patients with neuropathy are at greater risk of foot ulceration and amputation.</div>
<div class="t" style='left:31.50px;top:346px;font-family:"Liberation Sans", sans-serif;font-size:12.9px;font-weight:400;font-style:normal;word-spacing:-1.146px;'>Corneal Confocal Microscopy (CCM) is a</div>
<div class="t" style='left:31.50px;top:362px;font-family:"Liberation Sans", sans-serif;font-size:12.9px;font-weight:400;font-style:normal;word-spacing:8.100px;'>relatively new ophthalmic technique</div>
<div class="t" style='left:31.50px;top:379px;font-family:"Liberation Sans", sans-serif;font-size:12.9px;font-weight:400;font-style:normal;word-spacing:8.759px;'>which, through examination of the</div>
<div class="t" style='left:31.50px;top:396px;font-family:"Liberation Sans", sans-serif;font-size:12.9px;font-weight:400;font-style:normal;word-spacing:6.680px;'>cornea, aims to detect DPN in its</div>
<div class="t" style='left:31.50px;top:413px;font-family:"Liberation Sans", sans-serif;font-size:12.9px;font-weight:400;font-style:normal;word-spacing:2.136px;'>earliest stages and in a none invasive</div>
<div class="t" style='left:31.50px;top:430px;font-family:"Liberation Sans", sans-serif;font-size:12.9px;font-weight:400;font-style:normal;word-spacing:0.083px;'>manner with high sensitivity.</div>
<div class="t" style='left:31.50px;top:447px;font-family:"Liberation Sans", sans-serif;font-size:12.9px;font-weight:400;font-style:normal;word-spacing:-0.391px;'>At present, CCM is only performed in</div>
<div class="t" style='left:31.50px;top:464px;font-family:"Liberation Sans", sans-serif;font-size:12.9px;font-weight:400;font-style:normal;word-spacing:-1.172px;'>research centres by experienced</div>
<div class="t" style='left:31.50px;top:480px;font-family:"Liberation Sans", sans-serif;font-size:12.9px;font-weight:400;font-style:normal;word-spacing:0.709px;'>operators, therefore the primary aim of</div>
<div class="t" style='left:31.50px;top:497px;font-family:"Liberation Sans", sans-serif;font-size:12.9px;font-weight:400;font-style:normal;word-spacing:0.100px;'>this study was to investigate the</div>
<div class="t" style='left:31.50px;top:514px;font-family:"Liberation Sans", sans-serif;font-size:12.9px;font-weight:400;font-style:normal;word-spacing:0.004px;'>feasibility and acceptability in high-</div>
<div class="t" style='left:31.50px;top:531px;font-family:"Liberation Sans", sans-serif;font-size:12.9px;font-weight:400;font-style:normal;word-spacing:0.494px;'>street optometry practices to screen for</div>
<div class="t" style='left:31.50px;top:548px;font-family:"Liberation Sans", sans-serif;font-size:12.9px;font-weight:400;font-style:normal;'>DPN.</div>
<div class="t" style='left:279.50px;top:492px;font-family:"Liberation Sans", sans-serif;font-size:9.7px;font-weight:400;font-style:normal;word-spacing:0.008px;'><b>Figure 1. Images of corneal nerves in Bowman layer</b>, obtained with CCM. Image A</div>
<div class="t" style='left:279.50px;top:505px;font-family:"Liberation Sans", sans-serif;font-size:9.7px;font-weight:400;font-style:normal;word-spacing:4.238px;'>shows abundant nerve fibers and adequate branching in a control subject,</div>
<div class="t" style='left:279.50px;top:517px;font-family:"Liberation Sans", sans-serif;font-size:9.7px;font-weight:400;font-style:normal;word-spacing:1.249px;'>whereas image B is a typical image from a diabetic patient with mild neuropathy.</div>
<div class="t" style='left:279.50px;top:530px;font-family:"Liberation Sans", sans-serif;font-size:9.7px;font-weight:400;font-style:normal;word-spacing:2.620px;'>Source: Tavakoli M, Quattrini C, Abbott C at al. Corneal Confocal Microscopy.</div>
<div class="t" style='left:279.50px;top:543px;font-family:"Liberation Sans", sans-serif;font-size:9.7px;font-weight:400;font-style:normal;word-spacing:-0.416px;'>Diabetes Care 33 (8) 1792-1797, 2010.</div>
<div class="t" style='left:31.75px;top:614px;font-family:"Liberation Sans", sans-serif;font-size:12.9px;font-weight:400;font-style:normal;word-spacing:2.911px;'>This was a cross-sectional observational study. Four optometry practices were recruited from those</div>
<div class="t" style='left:31.75px;top:631px;font-family:"Liberation Sans", sans-serif;font-size:12.9px;font-weight:400;font-style:normal;word-spacing:0.816px;'>participating in the South Manchester Diabetic Retinopathy Screening Service (SMDRSS). Optometrists</div>
<div class="t" style='left:31.75px;top:648px;font-family:"Liberation Sans", sans-serif;font-size:12.9px;font-weight:400;font-style:normal;word-spacing:0.799px;'>were supplied with CCM equipment, trained over 2 days workshop and supported throughout the study.</div>
<div class="t" style='left:31.75px;top:665px;font-family:"Liberation Sans", sans-serif;font-size:12.9px;font-weight:400;font-style:normal;word-spacing:0.105px;'>Reception staff in each practices also received training on data collection and patient recruitment.</div>
<div class="t" style='left:31.75px;top:689px;font-family:"Liberation Sans", sans-serif;font-size:12.9px;font-weight:400;font-style:normal;word-spacing:0.375px;'>During the recruitment period (April – September 2015):</div>
<div class="t" style='left:69.50px;top:706px;font-family:"Liberation Sans", sans-serif;font-size:12.9px;font-weight:400;font-style:normal;word-spacing:-0.408px;'>practices offered CCM to every patient booking a retinopathy appointment (via SMDRSS)</div>
<div class="t" style='left:69.50px;top:723px;font-family:"Liberation Sans", sans-serif;font-size:12.9px;font-weight:400;font-style:normal;word-spacing:3.159px;'>for patients who wished to participate, practices booked a CCM scan alongside their annual</div>
<div class="t" style='left:69.50px;top:740px;font-family:"Liberation Sans", sans-serif;font-size:12.9px;font-weight:400;font-style:normal;word-spacing:0.688px;'>retinopathy screening test</div>
<div class="t" style='left:69.50px;top:757px;font-family:"Liberation Sans", sans-serif;font-size:12.9px;font-weight:400;font-style:normal;word-spacing:0.260px;'>optometrists checked eligibility, took informed consent and carried out CCM</div>
<div class="t" style='left:69.50px;top:773px;font-family:"Liberation Sans", sans-serif;font-size:12.9px;font-weight:400;font-style:normal;word-spacing:0.995px;'>optometrist captured relevant patient and test details</div>
<div class="t" style='left:69.50px;top:790px;font-family:"Liberation Sans", sans-serif;font-size:12.9px;font-weight:400;font-style:normal;word-spacing:0.367px;'>patients completed an information form and anonymised satisfaction questionnaire</div>
<div class="t" style='left:69.50px;top:807px;font-family:"Liberation Sans", sans-serif;font-size:12.9px;font-weight:400;font-style:normal;word-spacing:1.697px;'>optometrists transferred captured CCM images to the Chief Investigator for assessment of their</div>
<div class="t" style='left:69.50px;top:824px;font-family:"Liberation Sans", sans-serif;font-size:12.9px;font-weight:400;font-style:normal;word-spacing:-0.442px;'>quality and for determination of a DPN diagnosis</div>
<div class="t" style='left:31.75px;top:857px;font-family:"Liberation Sans", sans-serif;font-size:12.9px;font-weight:400;font-style:normal;word-spacing:4.607px;'>At the end of the study qualitative interviews were conducted with optometrists to explore their</div>
<div class="t" style='left:31.75px;top:874px;font-family:"Liberation Sans", sans-serif;font-size:12.9px;font-weight:400;font-style:normal;word-spacing:0.353px;'>experience of performing CCM. Furthermore, a budget impact analysis was carried out retrospectively to</div>
<div class="t" style='left:31.75px;top:891px;font-family:"Liberation Sans", sans-serif;font-size:12.9px;font-weight:400;font-style:normal;word-spacing:0.361px;'>assess the potential economic impact of the test if brought into routine practice.</div>
<div class="t" style='left:50.50px;top:706px;font-family:"Liberation Sans", sans-serif;font-size:12.9px;font-weight:400;font-style:normal;'>•</div>
<div class="t" style='left:50.50px;top:723px;font-family:"Liberation Sans", sans-serif;font-size:12.9px;font-weight:400;font-style:normal;'>•</div>
<div class="t" style='left:50.50px;top:757px;font-family:"Liberation Sans", sans-serif;font-size:12.9px;font-weight:400;font-style:normal;'>•</div>
<div class="t" style='left:50.50px;top:773px;font-family:"Liberation Sans", sans-serif;font-size:12.9px;font-weight:400;font-style:normal;'>•</div>
<div class="t" style='left:50.50px;top:790px;font-family:"Liberation Sans", sans-serif;font-size:12.9px;font-weight:400;font-style:normal;'>•</div>
<div class="t" style='left:50.50px;top:807px;font-family:"Liberation Sans", sans-serif;font-size:12.9px;font-weight:400;font-style:normal;'>•</div>
<div class="t" style='left:678.80px;top:305px;font-family:"Liberation Sans", sans-serif;font-size:12.9px;font-weight:400;font-style:normal;word-spacing:1.338px;'><b>Recruitment.</b> 450 patients were successfully recruited; above the 400 target and ahead of schedule. The</div>
<div class="t" style='left:678.80px;top:321px;font-family:"Liberation Sans", sans-serif;font-size:12.9px;font-weight:400;font-style:normal;word-spacing:-0.529px;'>test was attempted in all eligible consenting patients, and was successfully completed in 92% of cases.</div>
<div class="t" style='left:678.80px;top:344px;font-family:"Liberation Sans", sans-serif;font-size:12.9px;font-weight:400;font-style:normal;word-spacing:0.895px;'><b>Evaluation of the training.</b> Optometrists indicated the training was useful, appropriate and sufficient. They</div>
<div class="t" style='left:678.80px;top:361px;font-family:"Liberation Sans", sans-serif;font-size:12.9px;font-weight:400;font-style:normal;word-spacing:2.975px;'>indicated that future training could benefit from: 1) including more practice performing the test and 2)</div>
<div class="t" style='left:678.80px;top:378px;font-family:"Liberation Sans", sans-serif;font-size:12.9px;font-weight:400;font-style:normal;word-spacing:0.129px;'>instruction on determining the quality of images for diagnosis.</div>
<div class="t" style='left:678.80px;top:400px;font-family:"Liberation Sans", sans-serif;font-size:12.9px;font-weight:400;font-style:normal;word-spacing:1.389px;'><b>Patient acceptability.</b> Patients reported the test was comfortable (87%), pain free (90%), and stated they</div>
<div class="t" style='left:678.80px;top:416px;font-family:"Liberation Sans", sans-serif;font-size:12.9px;font-weight:400;font-style:normal;word-spacing:-0.781px;'>would agree to do it again (97%).</div>
<div class="t" style='left:678.80px;top:439px;font-family:"Liberation Sans", sans-serif;font-size:12.9px;font-weight:400;font-style:normal;word-spacing:0.129px;'><b>Duration of the test:</b> The average duration of performing CCM decreased over the course of the study from</div>
<div class="t" style='left:678.80px;top:456px;font-family:"Liberation Sans", sans-serif;font-size:12.9px;font-weight:400;font-style:normal;word-spacing:-0.464px;'>16 to 10 minutes.</div>
<div class="t" style='left:678.80px;top:478px;font-family:"Liberation Sans", sans-serif;font-size:12.9px;font-weight:400;font-style:normal;word-spacing:0.588px;'><b>Quality of images:</b> 95% of images assessed by the CI were determined to be of sufficient quality to permit</div>
<div class="t" style='left:678.80px;top:494px;font-family:"Liberation Sans", sans-serif;font-size:12.9px;font-weight:400;font-style:normal;word-spacing:1.466px;'>diagnosis, whereas optometrists were more cautious, rating 79% of images as having acceptable quality.</div>
<div class="t" style='left:678.80px;top:511px;font-family:"Liberation Sans", sans-serif;font-size:12.9px;font-weight:400;font-style:normal;word-spacing:2.849px;'>Optometrists reported the test was difficult to complete in 40% of cases due to patient characteristics</div>
<div class="t" style='left:678.80px;top:528px;font-family:"Liberation Sans", sans-serif;font-size:12.9px;font-weight:400;font-style:normal;word-spacing:-0.233px;'>and/or equipment design but they successfully performed the test at 96% of cases.</div>
<div class="t" style='left:727.50px;top:718px;font-family:"Liberation Sans", sans-serif;font-size:9.7px;font-weight:400;font-style:normal;word-spacing:0.128px;'><b>Figure 2. Optometrists and Chief Investigator grading of image quality by quartiles.</b> The quality grading provided for each</div>
<div class="t" style='left:727.50px;top:731px;font-family:"Liberation Sans", sans-serif;font-size:9.7px;font-weight:400;font-style:normal;word-spacing:0.420px;'>test represents the average across all images captured for a patient. Quartile 1 contains the first 25% of patients screened at</div>
<div class="t" style='left:727.50px;top:744px;font-family:"Liberation Sans", sans-serif;font-size:9.7px;font-weight:400;font-style:normal;word-spacing:0.299px;'>each practice, quartile 2 contains the next 25% and so on.</div>
<div class="t" style='left:672.50px;top:761px;font-family:"Liberation Sans", sans-serif;font-size:12.9px;font-weight:400;font-style:normal;word-spacing:-0.266px;'><b>Budget Impact Analysis.</b> The cost of the existing retinopathy screening test is approximately £12 per person</div>
<div class="t" style='left:672.50px;top:778px;font-family:"Liberation Sans", sans-serif;font-size:12.9px;font-weight:400;font-style:normal;word-spacing:0.249px;'>per year. If CCM were introduced alongside this, it would cost an additional £20 if the test was performed in</div>
<div class="t" style='left:672.50px;top:795px;font-family:"Liberation Sans", sans-serif;font-size:12.9px;font-weight:400;font-style:normal;word-spacing:0.025px;'>optometry practices, or £15 if done using mobile equipment in roving vans.</div>
<div class="t" style='left:678.30px;top:850px;font-family:"Liberation Sans", sans-serif;font-size:12.9px;font-weight:400;font-style:normal;word-spacing:1.981px;'>This was the first feasibility and acceptability study of CCM performed in optometry practices. Our results</div>
<div class="t" style='left:678.30px;top:867px;font-family:"Liberation Sans", sans-serif;font-size:12.9px;font-weight:400;font-style:normal;word-spacing:2.022px;'>indicate CCM was acceptable to patients. To be implemented in routine practice; resources, technological</div>
<div class="t" style='left:678.30px;top:884px;font-family:"Liberation Sans", sans-serif;font-size:12.9px;font-weight:400;font-style:normal;word-spacing:2.502px;'>improvements, and the impact of earlier diagnosis on diabetic management (as no treatment for DPN is</div>
<div class="t" style='left:678.30px;top:901px;font-family:"Liberation Sans", sans-serif;font-size:12.9px;font-weight:400;font-style:normal;word-spacing:0.472px;'>currently available) warrants further investigation. Clinical outcome of this study will be reported separately.</div>
<div class="t" style='left:87.70px;top:934px;font-family:"Liberation Sans", sans-serif;font-size:13.1px;font-weight:700;font-style:normal;word-spacing:0.690px;'>The National Institute for Health Research Collaboration for Leadership in Applied Health Research and Care (NIHR CLAHRC) Greater Manchester is a partnership between providers and</div>
<div class="t" style='left:42.30px;top:950px;font-family:"Liberation Sans", sans-serif;font-size:13.1px;font-weight:700;font-style:normal;word-spacing:0.678px;'>commissioners from the NHS, industry, the third sector and the University of Manchester. We aim to improve the health of people in Greater Manchester and beyond through carrying out research and</div>
<div class="t" style='left:599.70px;top:966px;font-family:"Liberation Sans", sans-serif;font-size:13.1px;font-weight:700;font-style:normal;word-spacing:0.992px;'>putting it into practice.</div>
<div class="t" style='left:588.00px;top:981px;font-family:"Liberation Sans", sans-serif;font-size:13.1px;font-weight:700;font-style:normal;letter-spacing:0.100px;color:#1515a8;'><u>http://clahrc-gm.nihr.ac.uk</u></div>
<div class="t h" style='left:48.60px;top:282px;font-family:"Liberation Sans", sans-serif;font-size:12.6px;font-weight:700;font-style:normal;transform:scaleX(0.9648);transform-origin:0 0;color:#fff;'>Background</div>
<div class="t h" style='left:33.30px;top:572px;font-family:"Liberation Sans", sans-serif;font-size:12.6px;font-weight:700;font-style:normal;transform:scaleX(1.0737);transform-origin:0 0;color:#fff;'>Methods</div>
<div class="t h" style='left:673.30px;top:281px;font-family:"Liberation Sans", sans-serif;font-size:12.6px;font-weight:700;font-style:normal;transform:scaleX(0.9714);transform-origin:0 0;color:#fff;'>Results</div>
<div class="t h" style='left:679.30px;top:824px;font-family:"Liberation Sans", sans-serif;font-size:12.6px;font-weight:700;font-style:normal;transform:scaleX(1.0302);transform-origin:0 0;color:#fff;'>Implications</div>
<div class="t" style='left:1179.90px;top:8px;font-family:"Liberation Sans", sans-serif;font-size:16.6px;font-weight:400;font-style:normal;letter-spacing:-0.368px;'>P21- NeuroDiab 2016</div>
<div class="t" style='left:47.00px;top:123px;font-family:"Liberation Sans", sans-serif;font-size:15.6px;font-weight:400;font-style:normal;letter-spacing:-0.030px;color:#8d8d8d;'>The University of Manchester</div>
<div class="t" style='left:1027.40px;top:87px;font-family:"Liberation Sans", sans-serif;font-size:26px;font-weight:700;font-style:italic;letter-spacing:0.387px;color:#1a1a1a;'>National Institute for</div>
<div class="t" style='left:1089.00px;top:119px;font-family:"Liberation Sans", sans-serif;font-size:26px;font-weight:700;font-style:italic;letter-spacing:-0.376px;color:#1a1a1a;'>Health Research</div>
</body></html>
